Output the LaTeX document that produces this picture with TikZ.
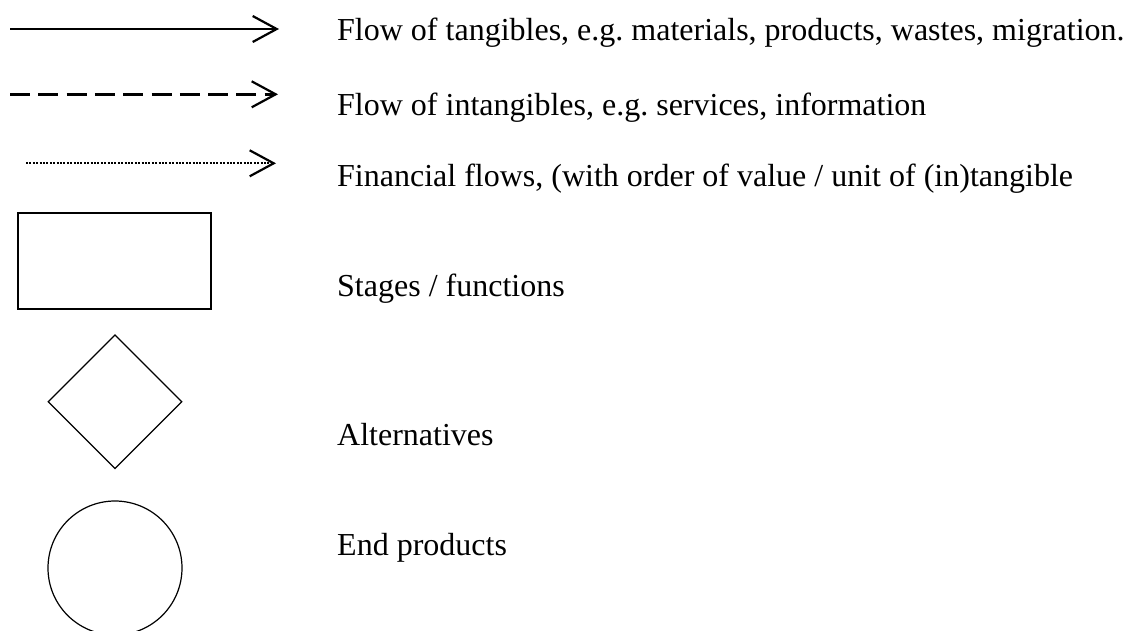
\documentclass[tikz,border=0pt]{standalone}
\usepackage{fontspec}
\setmainfont{Liberation Serif}
\usetikzlibrary{arrows.meta,shapes.geometric}
\frenchspacing
\begin{document}
\begin{tikzpicture}[x=1pt,y=-1pt,
  legendtext/.style={anchor=base west,inner sep=0pt,font=\fontsize{32}{38}\selectfont},
  barb/.style={-{Straight Barb[length=24pt,width=26pt,line width=2.2pt]}},
  shapeline/.style={draw,line width=1.2pt,inner sep=0pt}]
  \useasboundingbox (0,0) rectangle (1125,630);
  \clip (0,0) rectangle (1125,630);
  % line styles
  \coordinate (t0) at (10,29);   \coordinate (t1) at (279,29);
  \coordinate (i0) at (10,94.3); \coordinate (i1) at (278,94.3);
  \coordinate (f0) at (26,163.3);\coordinate (f1) at (276,163.3);
  \draw[barb,line width=2.2pt] (t0) -- (t1);
  \draw[barb,line width=3pt,dash pattern=on 20pt off 8.3pt] (i0) -- (i1);
  \draw[barb,line width=2.2pt,dash pattern=on 2pt off 1.4pt] (f0) -- (f1);
  % node shapes
  \node[shapeline,rectangle,minimum width=193pt,minimum height=96pt] (stage) at (114.5,261) {};
  \node[shapeline,diamond,aspect=1,minimum size=134pt] (alt) at (115,401.7) {};
  \node[shapeline,circle,minimum size=134pt] (endp) at (115,568) {};
  % descriptions
  \node[legendtext] (lt) at (337,40.7) {Flow of tangibles, e.g. materials, products, wastes, migration.};
  \node[legendtext] (li) at (337,115) {Flow of intangibles, e.g. services, information};
  \node[legendtext] (lf) at (337,186.7) {Financial flows, (with order of value / unit of (in)tangible};
  \node[legendtext] (ls) at (337,296.7) {Stages / functions};
  \node[legendtext] (la) at (337,445) {Alternatives};
  \node[legendtext] (le) at (337,555) {End products};
\end{tikzpicture}
\end{document}
